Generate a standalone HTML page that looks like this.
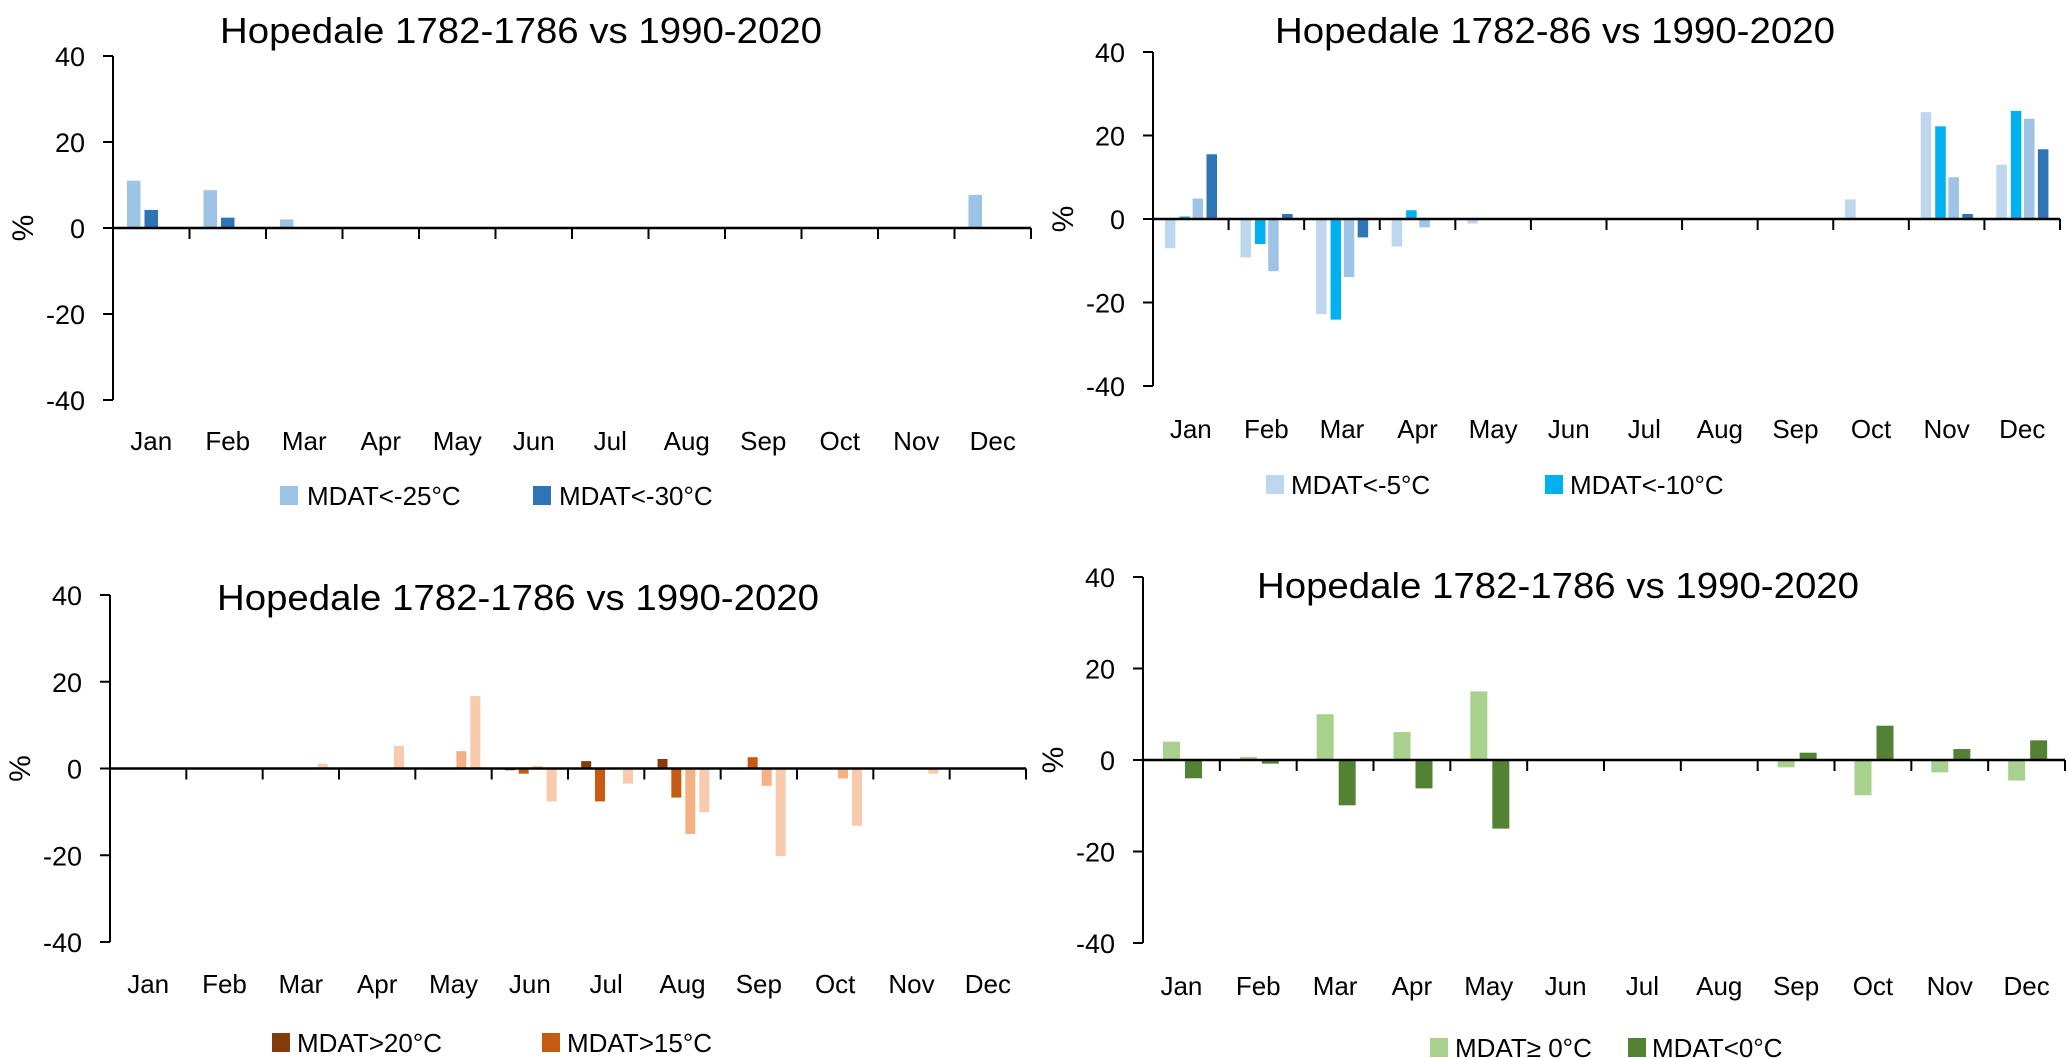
<!DOCTYPE html>
<html><head><meta charset="utf-8"><style>
html,body{margin:0;padding:0;background:#fff;}
svg{display:block;font-family:"Liberation Sans Narrow","Liberation Sans",sans-serif;}
</style></head><body>
<svg id="chart" width="2067" height="1058" viewBox="0 0 2067 1058" xmlns="http://www.w3.org/2000/svg"></svg>
<script>
const months = ["Jan","Feb","Mar","Apr","May","Jun","Jul","Aug","Sep","Oct","Nov","Dec"];
const yTicks = [40,20,0,-20,-40];
// Panel A (top-left)
const aSeries1 = [11,8.8,2,0,0,0,0,0,0,0,0,7.7];
const aSeries2 = [4.2,2.4,0,0,0,0,0,0,0,0,0,0];
const aNames = ["MDAT<-25°C","MDAT<-30°C"];
// Panel B (top-right)
const bSeries1 = [-7,-9.2,-22.8,-6.6,-1.1,0,0,0,0,4.7,25.6,13];
const bSeries2 = [0.6,-6,-24.1,2.1,0,0,0,0,0,0,22.2,25.9];
const bSeries3 = [4.9,-12.5,-13.9,-2,0,0,0,0,0,0,10,24];
const bSeries4 = [15.5,1.2,-4.4,0,0,0,0,0,0,0,1.2,16.7];
const bNames = ["MDAT<-5°C","MDAT<-10°C"];
// Panel C (bottom-left)
const cSeries1 = [0,0,0,0,0,-0.4,1.7,2.2,0,0,0,0];
const cSeries2 = [0,0,0,0,0,-1.2,-7.6,-6.7,2.6,0,0,0];
const cSeries3 = [0,0,0,0,4,0.5,0,-15.1,-4,-2.3,0,0];
const cSeries4 = [0,0,1.1,5.2,16.7,-7.6,-3.5,-10.1,-20.2,-13.2,-1.2,0];
const cNames = ["MDAT>20°C","MDAT>15°C"];
// Panel D (bottom-right)
const dSeries1 = [4,0.7,10,6.1,15,0,0,0,-1.6,-7.7,-2.7,-4.5];
const dSeries2 = [-4,-0.8,-9.9,-6.2,-15,0,0,0,1.6,7.5,2.4,4.3];
const dNames = ["MDAT≥ 0°C","MDAT<0°C"];

const NS = "http://www.w3.org/2000/svg";
const svg = document.getElementById('chart');
function mk(tag, attrs, parent){
  const e = document.createElementNS(NS, tag);
  for (const k in attrs) e.setAttribute(k, attrs[k]);
  (parent||svg).appendChild(e);
  return e;
}
const panels = [
  {id:'a', title:"Hopedale 1782-1786 vs 1990-2020", titleX:521, titleY:30, titleW:602,
   ax:113, right:1031, yTop:56, yBot:400, monthY:450, legY:496,
   series:[aSeries1,aSeries2], colors:["#9dc3e6","#2e75b6"], offs:[14,31.5], bw:13.5,
   names:aNames, leg:[[280,307],[533,559]]},
  {id:'b', title:"Hopedale 1782-86 vs 1990-2020", titleX:1555, titleY:30, titleW:560,
   ax:1153, right:2060, yTop:52, yBot:386, monthY:438, legY:485,
   series:[bSeries1,bSeries2,bSeries3,bSeries4], colors:["#bdd7ee","#00b0f0","#9dc3e6","#2e75b6"], offs:[11.9,26.4,39.6,53.5], bw:10.5,
   names:bNames, leg:[[1266,1291],[1545,1570]]},
  {id:'c', title:"Hopedale 1782-1786 vs 1990-2020", titleX:518, titleY:597, titleW:602,
   ax:110, right:1026, yTop:595, yBot:942, monthY:993, legY:1043,
   series:[cSeries1,cSeries2,cSeries3,cSeries4], colors:["#843c0c","#c55a11","#f4b183","#f8cbad"], offs:[13.2,27,41,55], bw:10,
   names:cNames, leg:[[272,297],[542,567]]},
  {id:'d', title:"Hopedale 1782-1786 vs 1990-2020", titleX:1558, titleY:585, titleW:602,
   ax:1143, right:2065, yTop:577, yBot:943, monthY:995, legY:1048,
   series:[dSeries1,dSeries2], colors:["#a9d18e","#548235"], offs:[20,42], bw:17,
   names:dNames, leg:[[1430,1455],[1628,1652]]}
];
panels.forEach(p=>{
  const g = mk('g',{});
  
  
  const yS = v => p.yTop + (40 - v) * (p.yBot - p.yTop) / 80;
  const cw = (p.right - p.ax) / months.length;
  const xS = i => p.ax + i * cw;
  const t = mk('text',{x:p.titleX, y:p.titleY+13, 'text-anchor':'middle','font-size':36, fill:'#000', textLength:p.titleW, lengthAdjust:'spacingAndGlyphs'}, g);
  t.textContent = p.title;
  
  
  p.series.forEach((s, si)=>{
    s.forEach((v, i)=>{
      if (v === 0) return;
      const y0 = yS(0), y1 = yS(v);
      const r = mk('rect',{x:xS(i)+p.offs[si], y:Math.min(y0,y1), width:p.bw, height:Math.abs(y1-y0), fill:p.colors[si]}, g);
      
      
    });
  });
  const ya = mk('line',{x1:p.ax, y1:p.yTop, x2:p.ax, y2:p.yBot, stroke:'#000','stroke-width':2}, g);
  
  
  yTicks.forEach(v=>{
    mk('line',{x1:p.ax-10, y1:yS(v), x2:p.ax, y2:yS(v), stroke:'#000','stroke-width':2}, g);
    const tl = mk('text',{x:p.ax-28, y:yS(v)+10, 'text-anchor':'end','font-size':27, fill:'#000'}, g);
    tl.textContent = v;
    
    
  });
  const yt = mk('text',{x:0, y:0, 'text-anchor':'middle','font-size':30, fill:'#000', transform:`translate(${p.ax-80},${yS(0)}) rotate(-90)`}, g);
  yt.textContent = '%';
  
  
  const xa = mk('line',{x1:p.ax, y1:yS(0), x2:p.right, y2:yS(0), stroke:'#000','stroke-width':2.5}, g);
  
  
  months.forEach((m,i)=>{
    mk('line',{x1:xS(i+1), y1:yS(0), x2:xS(i+1), y2:yS(0)+11, stroke:'#000','stroke-width':2}, g);
    const ml = mk('text',{x:xS(i)+cw/2, y:p.monthY, 'text-anchor':'middle','font-size':26, fill:'#000'}, g);
    ml.textContent = m;
    
    
  });
  p.names.forEach((n, li)=>{
    const sq = mk('rect',{x:p.leg[li][0], y:p.legY-10, width:18, height:19, fill:p.colors[li]}, g);
    
    
    const lt = mk('text',{x:p.leg[li][1], y:p.legY+9, 'font-size':26, fill:'#000'}, g);
    lt.textContent = n;
    
    
  });
});
</script>
</body></html>
